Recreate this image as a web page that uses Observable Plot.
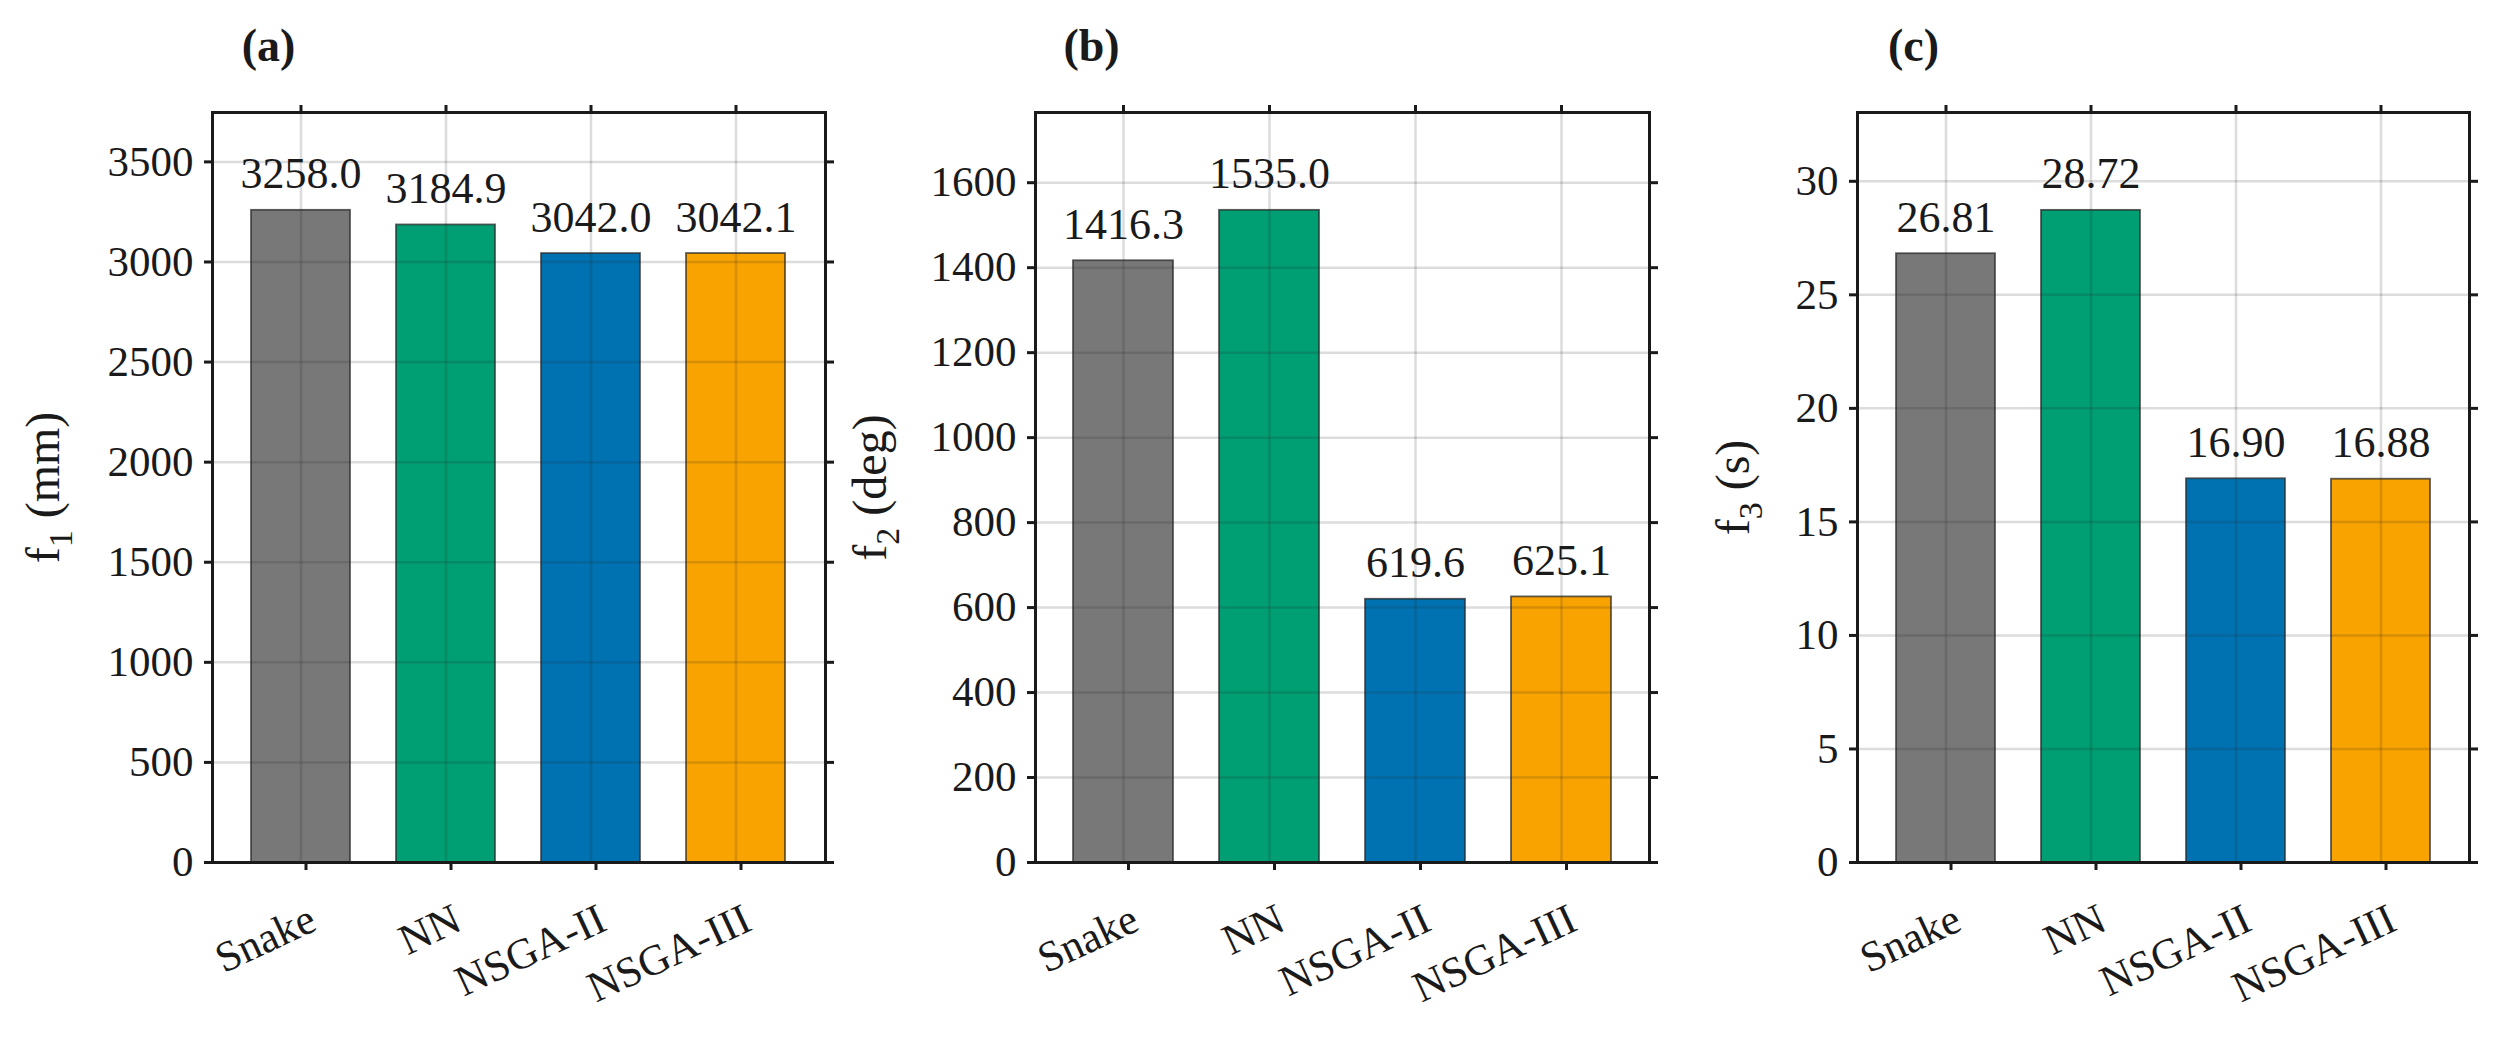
<!DOCTYPE html>
<html>
<head>
<meta charset="utf-8">
<script src="https://cdn.jsdelivr.net/npm/d3@7"></script>
<script src="https://cdn.jsdelivr.net/npm/@observablehq/plot@0.6"></script>
<style>
  html, body { margin: 0; padding: 0; background: #ffffff; }
  #figure { display: flex; width: 2507px; height: 1043px; background: #ffffff; }
  #figure svg { overflow: visible; }
</style>
</head>
<body>
<div id="figure"></div>
<script>
// ---- data -------------------------------------------------------------
const methods = ["Snake", "NN", "NSGA-II", "NSGA-III"];

// objective values per method
const f1Values = [3258.0, 3184.9, 3042.0, 3042.1];   // path length (mm)
const f2Values = [1416.3, 1535.0, 619.6, 625.1];     // total rotation (deg)
const f3Values = [26.81, 28.72, 16.90, 16.88];       // time (s)

// y tick values per panel
const f1Ticks = [0, 500, 1000, 1500, 2000, 2500, 3000, 3500];
const f2Ticks = [0, 200, 400, 600, 800, 1000, 1200, 1400, 1600];
const f3Ticks = [0, 5, 10, 15, 20, 25, 30];

// upper y limit of each panel (15% headroom over the tallest bar)
const yLimits = [3746.7, 1765.25, 33.03];

const panelTags = ["(a)", "(b)", "(c)"];
const yLabelParts = [["f", "1", " (mm)"], ["f", "2", " (deg)"], ["f", "3", " (s)"]];
const valueDecimals = [1, 1, 2];

// ---- styling ----------------------------------------------------------
const barColors = ["#787878", "#009e73", "#0072b2", "#f8a300"];
const ink = "#1a1a1a";
const fontFamily = "'Liberation Serif', 'Times New Roman', serif";

// per-panel svg width and horizontal margins, plus y-label offset from the frame
const panelGeometry = [
  { width: 836, left: 212, right: 11, labelOffset: 154 },
  { width: 836, left: 199, right: 23, labelOffset: 150 },
  { width: 835, left: 185, right: 38, labelOffset: 109 }
];

function drawPanel(values, ticks, yMax, decimals, tag, labelParts, geom) {
  const rows = methods.map((m, i) => ({ method: m, value: values[i] }));
  const fmt = d3.format(`.${decimals}f`);
  const labelKey = labelParts.join("");

  const svg = Plot.plot({
    width: geom.width,
    height: 1043,
    marginLeft: geom.left,
    marginRight: geom.right,
    marginTop: 112,
    marginBottom: 181,
    style: { fontFamily, fontSize: "43px", color: ink, background: "#ffffff", overflow: "visible" },
    x: { domain: methods, paddingInner: 0.315, paddingOuter: 0.2575, label: null },
    y: { domain: [0, yMax], label: null },
    color: { domain: methods, range: barColors },
    marks: [
      Plot.barY(rows, { x: "method", y: "value", fill: "method", stroke: "#2b2b2b", strokeOpacity: 0.75, strokeWidth: 1.8 }),
      Plot.gridY(ticks, { stroke: "#262626", strokeOpacity: 0.16, strokeWidth: 2.5 }),
      Plot.gridX(methods, { stroke: "#262626", strokeOpacity: 0.16, strokeWidth: 2.5 }),
      Plot.frame({ stroke: ink, strokeWidth: 3 }),
      Plot.axisY(ticks, { anchor: "left", tickSize: 8, tickPadding: 11, strokeWidth: 3, tickFormat: "d", fontSize: 43, label: null }),
      Plot.axisY(ticks, { anchor: "right", tickSize: 8, strokeWidth: 3, tickFormat: () => "", label: null }),
      Plot.axisX(methods, { anchor: "bottom", tickSize: 8, strokeWidth: 3, tickRotate: -25, textAnchor: "end", lineAnchor: "top", tickPadding: 31, dx: 5, fontSize: 43, label: null }),
      Plot.axisX(methods, { anchor: "top", tickSize: 8, strokeWidth: 3, tickFormat: () => "", label: null }),
      Plot.text(rows, { x: "method", y: "value", text: (d) => fmt(d.value), lineAnchor: "bottom", dy: -22, fontSize: 44, fill: ink }),
      Plot.text([tag], { frameAnchor: "top-left", dx: 56, dy: -52, lineAnchor: "bottom", textAnchor: "middle", fontWeight: "bold", fontSize: 46, fill: ink }),
      Plot.text([labelKey], { frameAnchor: "left", rotate: -90, dx: -geom.labelOffset, lineAnchor: "bottom", textAnchor: "middle", fontSize: 48, fill: ink, className: "ylab" })
    ]
  });

  // y label with subscript index
  svg.querySelectorAll(".ylab text").forEach((t) => {
    t.textContent = "";
    const [base, sub, rest] = labelParts;
    const ns = "http://www.w3.org/2000/svg";
    const s0 = document.createElementNS(ns, "tspan");
    s0.textContent = base;
    const s1 = document.createElementNS(ns, "tspan");
    s1.textContent = sub;
    s1.setAttribute("font-size", "34");
    s1.setAttribute("dy", "13");
    const s2 = document.createElementNS(ns, "tspan");
    s2.textContent = rest;
    s2.setAttribute("dy", "-13");
    t.append(s0, s1, s2);
  });

  return svg;
}

const figure = document.getElementById("figure");
const allValues = [f1Values, f2Values, f3Values];
const allTicks = [f1Ticks, f2Ticks, f3Ticks];
for (let i = 0; i < 3; ++i) {
  figure.append(drawPanel(allValues[i], allTicks[i], yLimits[i], valueDecimals[i], panelTags[i], yLabelParts[i], panelGeometry[i]));
}
</script>
</body>
</html>
